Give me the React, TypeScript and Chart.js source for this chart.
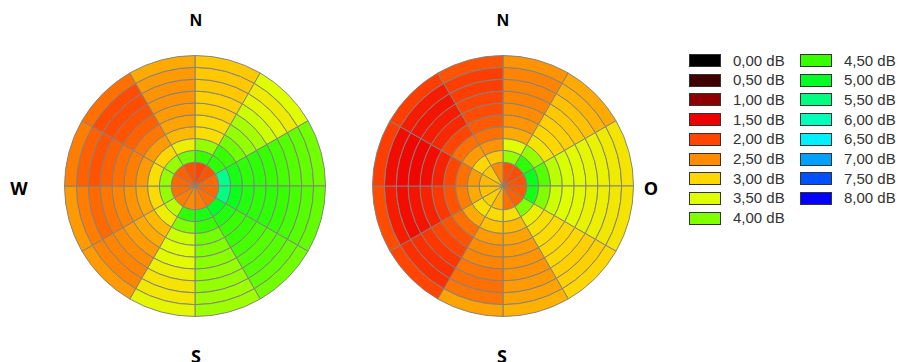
import React, { useEffect, useRef } from 'react';
import { Chart, registerables } from 'chart.js';

Chart.register(...registerables);

// 12 direction sectors, clockwise from north, 30° each
const sectorNames = ['0-30', '30-60', '60-90', '90-120', '120-150', '150-180', '180-210', '210-240', '240-270', '270-300', '300-330', '330-360'];
const sectorSpan = [30, 30, 30, 30, 30, 30, 30, 30, 30, 30, 30, 30];
// ring 0 = centre disc, ring 9 = outer ring
const ringWeights = [2, 1, 1, 1, 1, 1, 1, 1, 1, 1];

const legendValues = [0, 0.5, 1, 1.5, 2, 2.5, 3, 3.5, 4, 4.5, 5, 5.5, 6, 6.5, 7, 7.5, 8];
const legendLabels = ['0,00 dB', '0,50 dB', '1,00 dB', '1,50 dB', '2,00 dB', '2,50 dB', '3,00 dB', '3,50 dB', '4,00 dB', '4,50 dB', '5,00 dB', '5,50 dB', '6,00 dB', '6,50 dB', '7,00 dB', '7,50 dB', '8,00 dB'];
const legendColors = ['#000000', '#400000', '#8c0000', '#ee0000', '#ff4500', '#ff8c00', '#ffd700', '#dfff00', '#80ff00', '#38ff00', '#00ff22', '#00ff80', '#00ffbb', '#00f0ff', '#00a0ff', '#0050ff', '#0000ff'];

// dB values per sector (rows) and ring (inner -> outer)
const leftDisc = [
  [2.0, 4.5, 3.9, 3.1, 3.05, 2.95, 2.95, 2.9, 2.9, 2.9],
  [2.1, 4.6, 4.5, 4.1, 3.9, 3.8, 3.6, 3.4, 3.25, 3.5],
  [2.25, 5.6, 4.8, 4.6, 4.6, 4.5, 4.4, 4.3, 4.2, 4.1],
  [2.25, 5.5, 4.9, 4.7, 4.6, 4.6, 4.5, 4.4, 4.3, 4.2],
  [2.3, 5.0, 4.7, 4.5, 4.5, 4.4, 4.3, 4.3, 4.2, 4.1],
  [2.4, 4.8, 4.5, 4.1, 4.0, 3.95, 3.9, 3.9, 3.85, 3.85],
  [2.5, 4.6, 4.0, 3.6, 3.5, 3.45, 3.3, 3.15, 3.2, 3.4],
  [2.4, 3.7, 3.3, 2.8, 2.7, 2.6, 2.5, 2.45, 2.45, 2.6],
  [2.3, 3.9, 3.05, 2.7, 2.55, 2.45, 2.35, 2.25, 2.4, 2.6],
  [2.25, 3.9, 3.1, 2.6, 2.4, 2.3, 2.2, 2.1, 2.2, 2.4],
  [2.2, 3.9, 3.0, 2.6, 2.35, 2.2, 2.1, 2.05, 2.05, 2.3],
  [2.1, 4.1, 3.3, 2.8, 2.65, 2.6, 2.55, 2.55, 2.6, 2.7],
];

const rightDisc = [
  [2.1, 3.9, 3.5, 2.7, 2.55, 2.5, 2.45, 2.45, 2.45, 2.55],
  [2.05, 4.6, 3.9, 3.15, 3.0, 2.95, 2.9, 2.85, 2.75, 2.7],
  [2.1, 4.9, 4.3, 3.7, 3.55, 3.45, 3.4, 3.35, 3.25, 3.15],
  [2.15, 4.8, 4.0, 3.6, 3.5, 3.45, 3.35, 3.3, 3.2, 3.15],
  [2.2, 4.0, 3.3, 3.1, 3.05, 3.0, 3.0, 2.95, 2.95, 3.0],
  [2.3, 3.1, 2.8, 2.65, 2.6, 2.55, 2.55, 2.6, 2.65, 2.75],
  [2.8, 3.05, 2.85, 2.6, 2.5, 2.45, 2.35, 2.3, 2.35, 2.65],
  [2.95, 3.1, 2.7, 2.3, 2.1, 2.0, 1.9, 1.85, 1.85, 2.0],
  [2.85, 2.7, 2.4, 2.1, 1.9, 1.75, 1.65, 1.6, 1.7, 2.05],
  [2.8, 2.6, 2.3, 2.0, 1.75, 1.6, 1.55, 1.55, 1.6, 1.95],
  [2.9, 3.0, 2.6, 2.3, 2.0, 1.8, 1.7, 1.65, 1.7, 1.95],
  [2.5, 2.9, 2.55, 2.3, 2.15, 2.05, 2.0, 1.95, 1.95, 2.1],
];

function hexToRgb(h: string) {
  const n = parseInt(h.slice(1), 16);
  return [(n >> 16) & 255, (n >> 8) & 255, n & 255];
}

function dbColor(v: number) {
  if (v <= legendValues[0]) return legendColors[0];
  for (let i = 0; i < legendValues.length - 1; i++) {
    const a = legendValues[i], b = legendValues[i + 1];
    if (v <= b) {
      const t = (v - a) / (b - a);
      const c1 = hexToRgb(legendColors[i]);
      const c2 = hexToRgb(legendColors[i + 1]);
      const c = c1.map((x, k) => Math.round(x + (c2[k] - x) * t));
      return `rgb(${c[0]},${c[1]},${c[2]})`;
    }
  }
  return legendColors[legendColors.length - 1];
}

function Disc({ values, left, top, size }: { values: number[][]; left: number; top: number; size: number }) {
  const ref = useRef<HTMLCanvasElement>(null);
  useEffect(() => {
    if (!ref.current) return;
    const datasets = [];
    for (let r = ringWeights.length - 1; r >= 0; r--) {
      datasets.push({
        label: 'ring ' + r,
        data: sectorSpan,
        backgroundColor: values.map((s) => dbColor(s[r])),
        borderColor: 'rgba(130,130,130,0.95)',
        borderWidth: 1,
        weight: ringWeights[r],
      });
    }
    const chart = new Chart(ref.current, {
      type: 'doughnut',
      data: { labels: sectorNames, datasets },
      options: {
        animation: false,
        responsive: false,
        cutout: 0,
        layout: { padding: 0 },
        plugins: { legend: { display: false }, tooltip: { enabled: false } },
        events: [],
      },
    });
    return () => chart.destroy();
  }, [values]);
  return (
    <canvas ref={ref} width={size} height={size} style={{ position: 'absolute', left, top, width: size, height: size }} />
  );
}

const labelStyle: React.CSSProperties = {
  position: 'absolute',
  transform: 'translate(-50%, -50%)',
  fontFamily: '"Open Sans", sans-serif',
  fontWeight: 700,
  fontSize: 18,
  lineHeight: 1,
  color: '#000',
};

export default function App() {
  const col1 = legendLabels.slice(0, 9);
  const col2 = legendLabels.slice(9);
  const legendItem = (label: string, idx: number, x: number, row: number) => (
    <div key={label} style={{ position: 'absolute', left: x, top: 60.5 + row * 19.7 - 7, height: 14, display: 'flex', alignItems: 'center' }}>
      <div style={{ width: 30, height: 11, background: legendColors[idx], border: '1px solid #333' }} />
      <span style={{ marginLeft: 12, fontFamily: '"Liberation Sans", Arial, sans-serif', fontSize: 15, color: '#333', lineHeight: '14px', whiteSpace: 'nowrap' }}>{label}</span>
    </div>
  );
  return (
    <div style={{ position: 'absolute', left: 0, top: 0, width: 900, height: 362, background: '#fff', overflow: 'hidden' }}>
      <Disc values={leftDisc} left={64} top={55} size={262} />
      <Disc values={rightDisc} left={372} top={55} size={262} />
      <div style={{ ...labelStyle, left: 196, top: 20, fontFamily: '"Liberation Sans", Arial, sans-serif', fontSize: 17 }}>N</div>
      <div style={{ ...labelStyle, left: 19, top: 188 }}>W</div>
      <div style={{ ...labelStyle, left: 196, top: 356 }}>S</div>
      <div style={{ ...labelStyle, left: 503, top: 20, fontFamily: '"Liberation Sans", Arial, sans-serif', fontSize: 17 }}>N</div>
      <div style={{ ...labelStyle, left: 651, top: 188 }}>O</div>
      <div style={{ ...labelStyle, left: 502, top: 356 }}>S</div>
      {col1.map((l, i) => legendItem(l, i, 689, i))}
      {col2.map((l, i) => legendItem(l, i + 9, 800, i))}
    </div>
  );
}
